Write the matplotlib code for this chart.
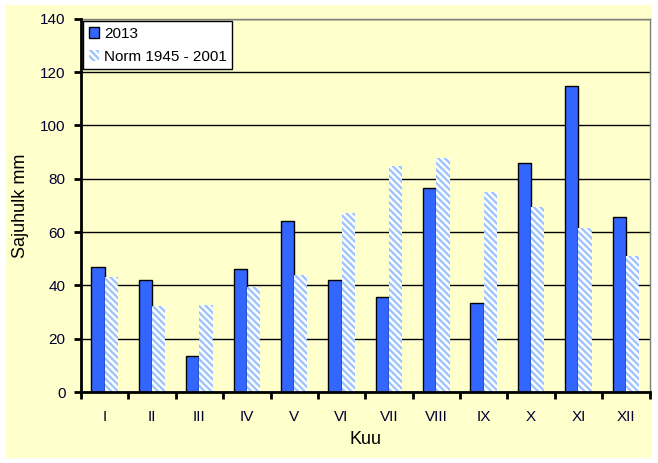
import matplotlib.pyplot as plt
import numpy as np
from matplotlib.patches import Rectangle

plt.rcParams['font.family'] = ['Liberation Sans', 'DejaVu Sans']
plt.rcParams['hatch.linewidth'] = 1.6

# monthly precipitation, mm
months = ['I', 'II', 'III', 'IV', 'V', 'VI', 'VII', 'VIII', 'IX', 'X', 'XI', 'XII']
vals_2013 = [47, 42, 13.5, 46, 64, 42, 35.5, 76.5, 33.3, 85.7, 114.8, 65.5]
vals_norm = [43, 32.3, 32.7, 39.2, 44, 67, 84.8, 87.6, 75, 69.3, 61.4, 51]
yticks = [0, 20, 40, 60, 80, 100, 120, 140]

bg = '#FFFFCC'
fig = plt.figure(figsize=(6.58, 4.63), dpi=100, facecolor='white')
fig.patches.append(Rectangle((6 / 658, 1 - 458 / 463), 646 / 658, 453 / 463,
                             transform=fig.transFigure, facecolor=bg,
                             edgecolor='none', zorder=-10))
ax = fig.add_axes([81 / 658, 1 - 392 / 463, 568.5 / 658, 373.3 / 463])
ax.set_facecolor(bg)

x = np.arange(len(months))
w = 0.28
ax.bar(x - w / 2, vals_2013, w, color='#3366FF', edgecolor='black',
       linewidth=1, label='2013', zorder=3)
ax.bar(x + w / 2, vals_norm, w, color='white', edgecolor='#99C2FF',
       linewidth=0, hatch='\\\\\\\\\\', label='Norm 1945 - 2001', zorder=3)

ax.set_xlim(-0.5, len(months) - 0.5)
ax.set_ylim(0, 140)
ax.set_yticks(yticks)
ax.set_xticks(x)
ax.set_xticklabels(months)
ax.set_xticks(np.arange(-0.5, len(months)), minor=True)
ax.tick_params(axis='x', which='major', length=0, pad=13, labelsize=11,
               labelcolor='#000033')
ax.tick_params(axis='x', which='minor', length=5, width=2, direction='out')
ax.tick_params(axis='y', length=5, width=2, direction='out', pad=6,
               labelsize=11, labelcolor='#000033')

ax.grid(axis='y', color='black', linewidth=1, zorder=0)
ax.set_axisbelow(True)
for s in ['left', 'bottom']:
    ax.spines[s].set_linewidth(2)
    ax.spines[s].set_zorder(5)
for s in ['top', 'right']:
    ax.spines[s].set_color('#808080')
    ax.spines[s].set_linewidth(1)

ax.set_ylabel('Sajuhulk mm', fontsize=13, labelpad=8)
ax.set_xlabel('Kuu', fontsize=13, labelpad=5)

leg = ax.legend(loc='upper left', bbox_to_anchor=(0.004, 0.993), fontsize=11,
                frameon=True, fancybox=False, handlelength=0.7,
                handleheight=0.7, handletextpad=0.3, borderpad=0.35,
                labelspacing=0.6, borderaxespad=0)
leg.get_frame().set_edgecolor('black')
leg.get_frame().set_linewidth(1)
leg.get_frame().set_facecolor('white')
leg.get_frame().set_alpha(1)

fig.savefig('out.png', dpi=100, facecolor=fig.get_facecolor())
